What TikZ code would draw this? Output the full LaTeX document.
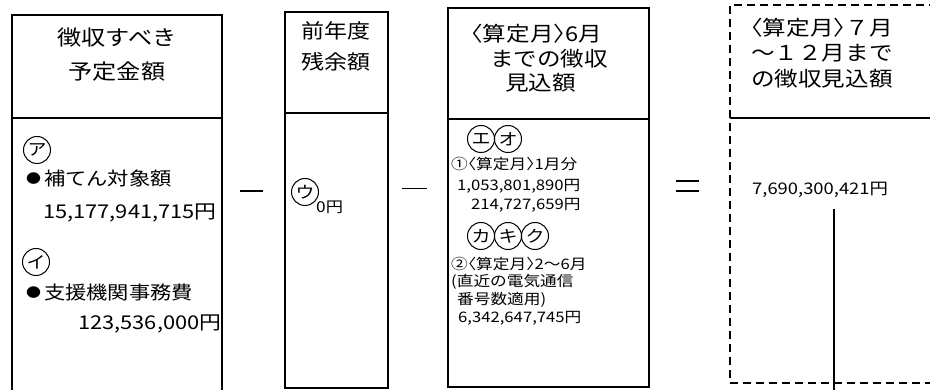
\documentclass[tikz,border=0pt]{standalone}
\usepackage{fontspec}
\setmainfont[FakeStretch=1.15]{Noto Sans CJK JP}
\newcommand\bulletmark{\raisebox{1.5pt}{\fontsize{13}{13}\selectfont ●}}
\newcommand\abrL{{\addfontfeatures{RawFeature=+halt}〈}}
\newcommand\abrR{{\addfontfeatures{RawFeature=+halt}〉}}
\begin{document}
\begin{tikzpicture}[x=1pt,y=-1pt,
  frame/.style={draw, line width=1.1pt, rectangle, inner sep=0pt, outer sep=0pt, anchor=north west},
  dframe/.style={frame, dash pattern=on 8pt off 5pt},
  solidline/.style={line width=1.1pt},
  head/.style={font=\fontsize{20.5}{24.5}\selectfont, inner sep=0pt},
  txtA/.style={font=\fontsize{18.5}{22}\selectfont, anchor=west, inner sep=0pt},
  numA/.style={font=\fontsize{19}{23}\selectfont, anchor=west, inner sep=0pt},
  txtB/.style={font=\fontsize{14.5}{17}\selectfont, anchor=west, inner sep=0pt},
  numB/.style={font=\fontsize{14.5}{17}\selectfont, anchor=west, inner sep=0pt},
  numC/.style={font=\fontsize{16}{19}\selectfont, anchor=west, inner sep=0pt},
  kana/.style={draw, circle, line width=1pt, minimum size=27pt, inner sep=0pt, font=\fontsize{16.5}{16.5}\selectfont},
  oper/.style={line width=1.3pt},
]
\useasboundingbox (0,0) rectangle (930,390);
\fill[white] (0,0) rectangle (930,390);
\clip (0,0) rectangle (930,390);

% box 1
\node[frame, minimum width=210pt, minimum height=103pt] (h1) at (12,15) {};
\node[frame, minimum width=210pt, minimum height=300pt] (b1) at (12,118) {};
% box 2
\node[frame, minimum width=103pt, minimum height=101pt] (h2) at (285,12) {};
\node[frame, minimum width=103pt, minimum height=275pt] (b2) at (285,113) {};
% box 3
\node[frame, minimum width=201pt, minimum height=111pt] (h3) at (448,8) {};
\node[frame, minimum width=201pt, minimum height=268pt] (b3) at (448,119) {};
% box 4 (dashed)
\node[dframe, minimum width=220pt, minimum height=378pt] (b4) at (730,5) {};
\draw[solidline] (b4.west |- 0,118) -- (b4.east |- 0,118);

% operators
\draw[oper] (240,191) -- (263,191);
\draw[oper, line width=1pt] (402,189) -- (427,189);
\draw[oper, line width=1.1pt] (676,181) -- (699,181);
\draw[oper, line width=1.1pt] (676,191) -- (699,191);

% headers
\node[head, align=center, font=\fontsize{21}{34}\selectfont] (t1) at (117,55) {徴収すべき\\予定金額};
\node[head, align=center, font=\fontsize{20}{31}\selectfont] (t2) at (336,46) {前年度\\残余額};
\node[head, align=left, anchor=west] (t3) at (471,58.5) {\abrL 算定月\abrR 6月\\\hspace*{19pt}までの徴収\\\hspace*{34pt}見込額};
\node[head, align=left, anchor=west, font=\fontsize{20.5}{25.5}\selectfont] (t4) at (751,53) {\abrL 算定月\abrR ７月\\～１２月まで\\の徴収見込額};

% box 1 body
\node[kana] (kA) at (37,150) {ア};
\node[txtA] (l1) at (26,178) {\bulletmark\hspace{3pt}補てん対象額};
\node[numA] (n1) at (43,213) {15,177,941,715円};
\node[kana] (kI) at (36,262) {イ};
\node[txtA] (l2) at (26,292) {\bulletmark\hspace{3pt}支援機関事務費};
\node[numA] (n2) at (78,324) {123,536,000円};

% box 2 body
\node[kana] (kU) at (305,192) {ウ};
\node[numB, font=\fontsize{15}{17}\selectfont] (n3) at (316,207) {0円};

% box 3 body
\node[kana] (kE) at (481,139) {エ};
\node[kana] (kO) at (508,139) {オ};
\node[txtB] (l3) at (451,164) {①\abrL 算定月\abrR 1月分};
\node[numB] (n4) at (457,186) {1,053,801,890円};
\node[numB] (n5) at (471,205) {214,727,659円};
\node[kana] (kKa) at (481,236) {カ};
\node[kana] (kKi) at (508,236) {キ};
\node[kana] (kKu) at (535,236) {ク};
\node[txtB] (l4) at (451,264) {②\abrL 算定月\abrR 2～6月};
\node[txtB] (l5) at (451,282) {(直近の電気通信};
\node[txtB] (l6) at (457,300) {番号数適用)};
\node[numB] (n6) at (458,318) {6,342,647,745円};

% box 4 body
\node[numC] (n7) at (752,190) {7,690,300,421円};
\coordinate (v1) at (834,209);
\coordinate (v2) at (834,400);
\draw[solidline] (v1) -- (v2);
\end{tikzpicture}
\end{document}
